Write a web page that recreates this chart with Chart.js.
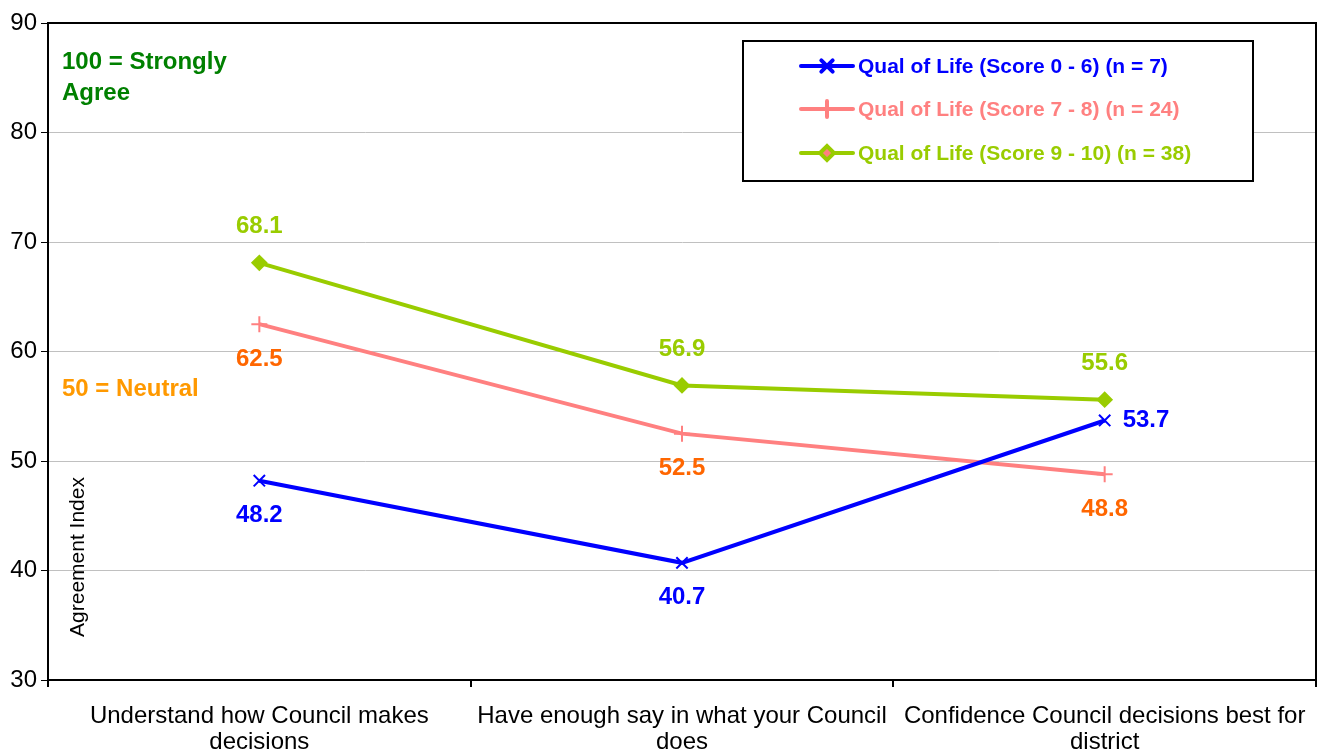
<!DOCTYPE html>
<html>
<head>
<meta charset="utf-8">
<script src="https://cdn.jsdelivr.net/npm/chart.js@4/dist/chart.umd.min.js"></script>
<style>
  html, body { margin: 0; padding: 0; background: #fff; overflow: hidden; }
  #wrap { width: 1319px; height: 753px; }
  canvas { display: block; }
</style>
</head>
<body>
<div id="wrap"><canvas id="chart" width="1319" height="753"></canvas></div>
<script>
// chart values
var categories = [
    ['Understand how Council makes', 'decisions'],
    ['Have enough say in what your Council', 'does'],
    ['Confidence Council decisions best for', 'district']
];
var seriesNames = [
    'Qual of Life (Score 0 - 6) (n = 7)',
    'Qual of Life (Score 7 - 8) (n = 24)',
    'Qual of Life (Score 9 - 10) (n = 38)'
];
var lowScore = [48.2, 40.7, 53.7];
var midScore = [62.5, 52.5, 48.8];
var highScore = [68.1, 56.9, 55.6];
var yTicks = [30, 40, 50, 60, 70, 80, 90];

// styling
var lineColors = ['#0000FF', '#FF8080', '#99CC00'];
var labelColors = ['#0000FF', '#FF6600', '#99CC00'];
var legendColors = ['#0000FF', '#FF8080', '#99CC00'];
var labelPos = [
    ['below', 'below', 'right'],
    ['below', 'below', 'below'],
    ['above', 'above', 'above']
];
var FONT = '"Liberation Sans", Arial, sans-serif';

var extras = {
    id: 'extras',
    afterDatasetsDraw(chart) {
        var ctx = chart.ctx;
        var a = chart.chartArea;
        ctx.save();
        // box around plot
        ctx.strokeStyle = '#000';
        ctx.lineWidth = 2;
        ctx.beginPath();
        ctx.moveTo(a.left, a.top);
        ctx.lineTo(a.right, a.top);
        ctx.lineTo(a.right, a.bottom);
        ctx.stroke();

        // data labels
        ctx.font = 'bold 24px ' + FONT;
        chart.data.datasets.forEach(function(ds, i) {
            var meta = chart.getDatasetMeta(i);
            meta.data.forEach(function(pt, j) {
                var p = labelPos[i][j];
                ctx.fillStyle = labelColors[i];
                ctx.textBaseline = 'middle';
                var txt = ds.data[j].toFixed(1);
                if (p === 'right') {
                    ctx.textAlign = 'left';
                    ctx.fillText(txt, pt.x + 18, pt.y);
                } else {
                    ctx.textAlign = 'center';
                    ctx.fillText(txt, pt.x, pt.y + (p === 'above' ? -36 : 35));
                }
            });
        });

        // notes inside plot
        ctx.textAlign = 'left';
        ctx.textBaseline = 'middle';
        ctx.font = 'bold 24px ' + FONT;
        ctx.fillStyle = '#008000';
        ctx.fillText('100 = Strongly', 62, 62);
        ctx.fillText('Agree', 62, 93);
        ctx.fillStyle = '#FF9900';
        ctx.fillText('50 = Neutral', 62, 389);

        // axis title inside plot
        ctx.save();
        ctx.translate(78, 557);
        ctx.rotate(-Math.PI / 2);
        ctx.textAlign = 'center';
        ctx.fillStyle = '#000';
        ctx.font = '21px ' + FONT;
        ctx.fillText('Agreement Index', 0, 0);
        ctx.restore();

        // legend box
        ctx.fillStyle = '#fff';
        ctx.fillRect(743, 41, 510, 140);
        ctx.strokeStyle = '#000';
        ctx.lineWidth = 2;
        ctx.strokeRect(743, 41, 510, 140);
        var rows = [66, 109, 153];
        ctx.font = 'bold 21px ' + FONT;
        chart.data.datasets.forEach(function(ds, i) {
            var y = rows[i];
            ctx.strokeStyle = ds.borderColor;
            ctx.lineWidth = 4;
            ctx.lineCap = 'round';
            ctx.beginPath();
            ctx.moveTo(801, y);
            ctx.lineTo(853, y);
            ctx.stroke();
            Chart.helpers.drawPoint(ctx, {
                pointStyle: ds.pointStyle,
                radius: ds.pointRadius,
                borderWidth: ds.pointBorderWidth
            }, 827, y);
            ctx.fillStyle = legendColors[i];
            ctx.textAlign = 'left';
            ctx.fillText(ds.label, 858, y + 1);
        });
        ctx.restore();
    }
};

function makeSet(name, values, idx, style, radius) {
    return {
        label: name,
        data: values,
        borderColor: lineColors[idx],
        backgroundColor: lineColors[idx],
        pointBackgroundColor: lineColors[idx],
        pointBorderColor: lineColors[idx],
        borderWidth: 4,
        pointStyle: style,
        pointRadius: radius,
        pointBorderWidth: 2,
        tension: 0
    };
}

new Chart(document.getElementById('chart'), {
    type: 'line',
    data: {
        labels: categories,
        datasets: [
            makeSet(seriesNames[0], lowScore, 0, 'crossRot', 8),
            makeSet(seriesNames[1], midScore, 1, 'cross', 8),
            makeSet(seriesNames[2], highScore, 2, 'rectRot', 7)
        ]
    },
    options: {
        responsive: false,
        animation: false,
        layout: { autoPadding: false, padding: { left: 0, right: 3, top: 23, bottom: 0 } },
        plugins: {
            legend: { display: false },
            tooltip: { enabled: false }
        },
        scales: {
            x: {
                offset: true,
                afterFit: function(axis) {
                    axis.height = 73;
                    axis.paddingLeft = 0;
                    axis.paddingRight = 0;
                },
                grid: {
                    offset: true,
                    drawOnChartArea: false,
                    drawTicks: true,
                    tickLength: 7,
                    color: '#000',
                    lineWidth: 2
                },
                border: { color: '#000', width: 2 },
                ticks: {
                    color: '#000',
                    font: { family: FONT, size: 24, lineHeight: 1.1 },
                    padding: 16,
                    maxRotation: 0,
                    autoSkip: false
                }
            },
            y: {
                min: 30,
                max: 90,
                afterBuildTicks: function(axis) {
                    axis.ticks = yTicks.map(function(v) { return { value: v }; });
                },
                afterFit: function(axis) { axis.width = 48; },
                grid: {
                    color: '#C0C0C0',
                    lineWidth: 1,
                    tickColor: '#000',
                    tickLength: 7
                },
                border: { color: '#000', width: 2 },
                ticks: {
                    color: '#000',
                    font: { family: FONT, size: 24 },
                    padding: 4
                }
            }
        }
    },
    plugins: [extras]
});
</script>
</body>
</html>
